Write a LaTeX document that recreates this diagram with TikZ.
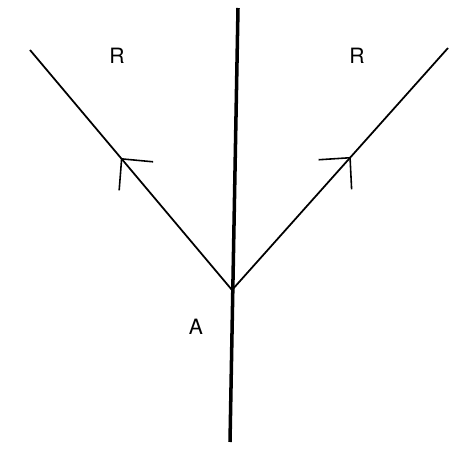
\documentclass[tikz,border=0pt]{standalone}
\usepackage{fontspec}
\setmainfont{TeX Gyre Heros}
\usetikzlibrary{arrows.meta,decorations.markings}

\begin{document}
\begin{tikzpicture}[x=0.02cm, y=-0.02cm,
    ray/.style={line width=1pt, postaction={decorate},
        decoration={markings, mark=at position 0.55 with {\arrow[line width=0.9pt]{Straight Barb[angle=86:0.65cm 0, length=0.45cm]}}}},
    trunk/.style={line width=2pt},
    lbl/.style={font=\fontsize{12}{14}\selectfont}
]
\useasboundingbox (0,0) rectangle (466,449);

% points
\coordinate (top) at (238,8);
\coordinate (bot) at (230,442);
\coordinate (A) at (232,290);
\coordinate (left) at (30,50);
\coordinate (right) at (448,48);

\draw[trunk] (top) -- (bot);
\draw[ray] (A) -- (left);
\draw[ray] (A) -- (right);

% labels
\node[lbl] (rl) at (117,56) {R};
\node[lbl] (rr) at (357,56) {R};
\node[lbl] (la) at (196,327) {A};
\end{tikzpicture}
\end{document}
